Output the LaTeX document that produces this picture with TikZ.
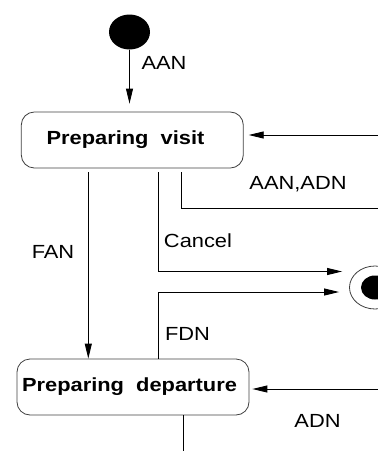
\documentclass[tikz,border=0pt]{standalone}
\usepackage{fontspec}
\setmainfont{Liberation Sans}[FakeStretch=1.15]
\usetikzlibrary{arrows.meta,shapes.geometric,calc}
\begin{document}
\begin{tikzpicture}[x=1pt,y=-1pt,
  statebox/.style={draw=black!75, line width=0.8pt, rounded corners=13pt,
    inner sep=0pt, font=\fontsize{19}{21}\selectfont\bfseries},
  lbl/.style={inner sep=0pt, anchor=base, font=\fontsize{19}{21}\selectfont},
  conn/.style={line width=0.9pt, black},
  arr/.style={conn, -{Triangle[length=15pt,width=7pt]}}
]
\useasboundingbox (0,0) rectangle (378,451);
\clip (0,0) rectangle (378,451);

% states
\node[ellipse, fill=black, inner sep=0pt, minimum width=41pt, minimum height=35pt] (init) at (129.5,32) {};
\node[statebox, minimum width=222pt, minimum height=56pt] (pv) at (132.3,140) {Preparing\ \ visit\hspace*{13.6pt}};
\node[statebox, minimum width=232pt, minimum height=56pt] (pd) at (133,387) {Preparing\ \ departure\hspace*{7pt}};
\node[ellipse, draw=black!75, line width=0.8pt, inner sep=0pt, minimum width=51pt, minimum height=43pt] (fin) at (375,287.5) {};
\node[ellipse, fill=black, inner sep=0pt, minimum width=28pt, minimum height=24pt] (finc) at (fin.center) {};

% free ends and columns
\coordinate (r1) at (378,135);
\coordinate (r2) at (378,208);
\coordinate (r3) at (378,389);
\coordinate (xa) at (88.3,0);
\coordinate (xb) at (158.3,0);
\coordinate (xc) at (181.7,0);
\coordinate (b1) at (183,451);

% connectors
\draw[arr, shorten >=8pt] (init.south) -- (init.south |- pv.north);
\draw[arr, shorten >=5pt] (r1) -- (pv.east |- r1);
\draw[conn] ($(pv.south -| xc)+(0,4)$) |- (r2);
\draw[arr] ($(pv.south -| xb)+(0,4)$) |- ($(fin.west)+(-7,-16)$);
\draw[arr] ($(pv.south -| xa)+(0,4)$) -- (pd.north -| xa);
\draw[arr] (pd.north -| xb) |- ($(fin.west)+(-10,4.5)$);
\draw[arr, shorten >=3pt] (r3) -- (pd.east |- r3);
\draw[conn] (pd.south -| b1) -- (b1);

% labels
\node[lbl] (lAAN) at (164,69) {AAN};
\node[lbl] (lAANADN) at (298,189) {AAN,ADN};
\node[lbl] (lCancel) at (198,247) {Cancel};
\node[lbl] (lFAN) at (53,258) {FAN};
\node[lbl] (lFDN) at (187.5,340) {FDN};
\node[lbl] (lADN) at (317.5,427.3) {ADN};
\end{tikzpicture}
\end{document}
